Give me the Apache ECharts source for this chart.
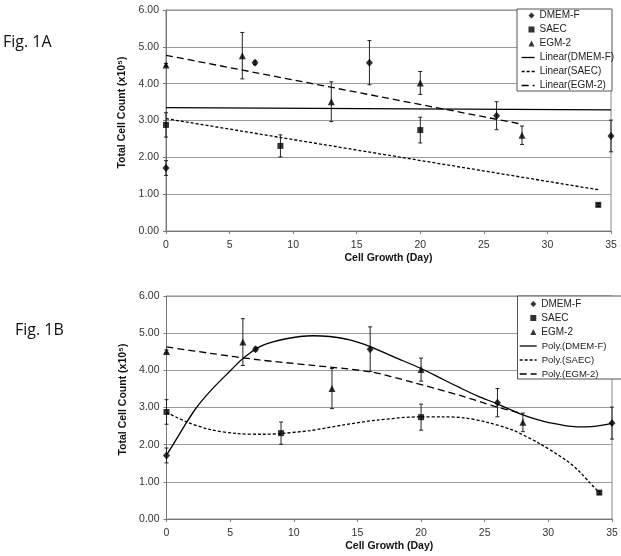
<!DOCTYPE html>
<html>
<head>
<meta charset="utf-8">
<script src="https://cdn.jsdelivr.net/npm/echarts@6/dist/echarts.min.js"></script>
<style>
  html, body { margin: 0; padding: 0; background: #fff; }
  #chart { width: 621px; height: 556px; }
</style>
</head>
<body>
<div id="chart"></div>
<script>
// ---- Data ----
const dmemDays = [0, 7, 16, 26, 35];
const dmemCount = [1.71, 4.57, 4.57, 3.13, 2.58];
const dmemErr = [0.20, 0.05, 0.60, 0.38, 0.43];

const saecDays = [0, 9, 20, 34];
const saecCount = [2.88, 2.31, 2.74, 0.71];
const saecErr = [0.33, 0.30, 0.35, 0.04];

const egmDays = [0, 6, 13, 20, 28];
const egmCount = [4.51, 4.76, 3.51, 4.02, 2.60];
const egmErr = [0.04, 0.63, 0.54, 0.31, 0.25];

// Fig. 1A linear trend lines (end points)
const linDmem = [[0, 3.35], [35, 3.29]];
const linSaec = [[0, 3.05], [34, 1.12]];
const linEgm = [[0, 4.77], [28, 2.90]];

// Fig. 1B polynomial trend lines
const polyDmem = [[0, 1.72], [0.52, 2.0], [1.4, 2.5], [2.36, 3.0], [3.6, 3.5], [5.05, 4.0], [6, 4.32],
  [7.3, 4.63], [8.3, 4.76], [9.4, 4.85], [10.5, 4.91], [11.5, 4.93], [12.8, 4.91], [14.4, 4.82],
  [16, 4.64], [17.8, 4.37], [20, 4.05], [21.7, 3.76], [23, 3.54], [24.5, 3.30], [25.9, 3.11],
  [28, 2.80], [29.2, 2.67], [30.4, 2.57], [31.3, 2.51], [32.2, 2.48], [33, 2.48], [33.8, 2.50], [35, 2.57]];
const polySaec = [[0, 2.87], [1.6, 2.61], [3.4, 2.41], [5.5, 2.30], [7.6, 2.28], [9, 2.30], [11.3, 2.38],
  [13.9, 2.53], [16.5, 2.66], [20, 2.75], [21.7, 2.75], [23.4, 2.72], [25.1, 2.61], [27.2, 2.39],
  [29.3, 2.03], [31.4, 1.58], [32.4, 1.29], [33.25, 0.98], [34, 0.71]];
const polyEgm = [[0, 4.63], [3.4, 4.46], [7.3, 4.28], [11.3, 4.14], [16, 3.96], [19.1, 3.70],
  [23, 3.33], [25.9, 3.02], [28, 2.83]];

const xMin = 0, xMax = 35, xStep = 5;
const yMin = 0, yMax = 6, yStep = 1;

const xTitle = 'Cell Growth (Day)';
const yTitle = 'Total Cell Count (x10\u2075)';

// ---- Helpers ----
const FONT = '"Liberation Sans", Arial, sans-serif';
const zip = (xs, ys) => xs.map((x, i) => [x, ys[i]]);
const zip3 = (xs, ys, es) => xs.map((x, i) => [x, ys[i], es[i]]);

function errRender(params, api) {
  const x = api.value(0), y = api.value(1), e = api.value(2);
  const top = api.coord([x, y + e]);
  const bot = api.coord([x, y - e]);
  const cw = 2;
  const st = { stroke: '#222', lineWidth: 1 };
  return {
    type: 'group',
    children: [
      { type: 'line', shape: { x1: top[0], y1: top[1], x2: bot[0], y2: bot[1] }, style: st },
      { type: 'line', shape: { x1: top[0] - cw, y1: top[1], x2: top[0] + cw, y2: top[1] }, style: st },
      { type: 'line', shape: { x1: bot[0] - cw, y1: bot[1], x2: bot[0] + cw, y2: bot[1] }, style: st }
    ]
  };
}

function axesFor(gi) {
  const x = {
    type: 'value', gridIndex: gi, min: xMin, max: xMax, interval: xStep,
    name: xTitle, nameLocation: 'middle', nameGap: 22,
    nameTextStyle: { fontFamily: FONT, fontSize: 10.5, fontWeight: 'bold', color: '#111' },
    axisLine: { show: true, onZero: false, lineStyle: { color: '#777', width: 1 } },
    axisTick: { show: true, length: 3, lineStyle: { color: '#777' } },
    axisLabel: { fontFamily: FONT, fontSize: 10.5, color: '#333', margin: 9 },
    splitLine: { show: false }
  };
  const y = {
    type: 'value', gridIndex: gi, min: yMin, max: yMax, interval: yStep,
    name: yTitle, nameLocation: 'middle', nameGap: 31,
    nameTextStyle: { fontFamily: FONT, fontSize: 10.5, fontWeight: 'bold', color: '#111', padding: [0, 0, 0, 16] },
    axisLine: { show: true, lineStyle: { color: '#777', width: 1 } },
    axisTick: { show: true, length: 3, lineStyle: { color: '#777' } },
    axisLabel: { fontFamily: FONT, fontSize: 10.5, color: '#333', margin: 7, formatter: v => v.toFixed(2) },
    splitLine: { show: true, lineStyle: { color: '#9a9a9a', width: 1 } }
  };
  return { x, y };
}

const a0 = axesFor(0), a1 = axesFor(1);

function markerSeries(gi) {
  return [
    { name: 'DMEM-F', type: 'scatter', xAxisIndex: gi, yAxisIndex: gi, symbol: 'diamond', symbolSize: [7, 8],
      itemStyle: { color: '#000' }, z: 4, data: zip(dmemDays, dmemCount) },
    { name: 'SAEC', type: 'scatter', xAxisIndex: gi, yAxisIndex: gi, symbol: 'rect', symbolSize: 6,
      itemStyle: { color: '#000' }, z: 4, data: zip(saecDays, saecCount) },
    { name: 'EGM-2', type: 'scatter', xAxisIndex: gi, yAxisIndex: gi, symbol: 'triangle', symbolSize: 7,
      itemStyle: { color: '#000' }, z: 4, data: zip(egmDays, egmCount) },
    { type: 'custom', xAxisIndex: gi, yAxisIndex: gi, renderItem: errRender, z: 3, silent: true,
      encode: { x: 0, y: 1 }, data: zip3(dmemDays, dmemCount, dmemErr) },
    { type: 'custom', xAxisIndex: gi, yAxisIndex: gi, renderItem: errRender, z: 3, silent: true,
      encode: { x: 0, y: 1 }, data: zip3(saecDays, saecCount, saecErr) },
    { type: 'custom', xAxisIndex: gi, yAxisIndex: gi, renderItem: errRender, z: 3, silent: true,
      encode: { x: 0, y: 1 }, data: zip3(egmDays, egmCount, egmErr) }
  ];
}

function trendSeries(gi, names, datas, smooth) {
  const dashes = ['solid', [3, 2], [7, 4]];
  return names.map((n, i) => ({
    name: n, type: 'line', xAxisIndex: gi, yAxisIndex: gi, symbol: 'none', smooth: smooth,
    lineStyle: { color: '#000', width: 1.3, type: dashes[i] }, itemStyle: { color: '#000' },
    z: 2, silent: true, data: datas[i]
  }));
}

const linNames = ['Linear(DMEM-F)', 'Linear(SAEC)', 'Linear(EGM-2)'];
const polyNames = ['Poly.(DMEM-F)', 'Poly.(SAEC)', 'Poly.(EGM-2)'];
const markerNames = ['DMEM-F', 'SAEC', 'EGM-2'];

function legendText(fs) {
  return { fontFamily: FONT, fontSize: fs, color: '#222', lineHeight: 12 };
}

function markerLegend(left, top, fs) {
  return { orient: 'vertical', left, top, padding: 0, itemGap: 2, itemWidth: 6, itemHeight: 6,
    selectedMode: false, textStyle: legendText(fs), data: markerNames, z: 6 };
}
function lineLegend(left, top, names, w, fs) {
  return { orient: 'vertical', left, top, padding: 0, itemGap: 2, itemWidth: w, itemHeight: 10,
    selectedMode: false, textStyle: legendText(fs), data: names, z: 6,
    itemStyle: { opacity: 0 }, lineStyle: { width: 1.3 } };
}

const chart = echarts.init(document.getElementById('chart'), null, { renderer: 'canvas' });
chart.setOption({
  animation: false,
  backgroundColor: '#fff',
  grid: [
    { left: 166, top: 10, width: 445, height: 221, show: true, borderColor: '#888', borderWidth: 1,
      backgroundColor: 'transparent', containLabel: false, outerBoundsMode: 'none' },
    { left: 166.5, top: 296, width: 445.5, height: 223, show: true, borderColor: '#888', borderWidth: 1,
      backgroundColor: 'transparent', containLabel: false, outerBoundsMode: 'none' }
  ],
  xAxis: [a0.x, a1.x],
  yAxis: [a0.y, a1.y],
  legend: [
    markerLegend(528.5, 9.5, 10),
    lineLegend(521, 51.5, linNames, 13, 10),
    markerLegend(530.3, 298, 10),
    lineLegend(519, 340, polyNames, 17, 9.5)
  ],
  graphic: [
    { type: 'rect', shape: { x: 517, y: 9, width: 95, height: 82 }, z: 5,
      style: { fill: '#fff', stroke: '#555', lineWidth: 1 } },
    { type: 'rect', shape: { x: 517.5, y: 296, width: 105, height: 83 }, z: 5,
      style: { fill: '#fff', stroke: '#555', lineWidth: 1 } },
    { type: 'text', left: 3, top: 34, z: 5,
      style: { text: 'Fig. 1A', fontFamily: '"Open Sans", sans-serif', fontSize: 16, fill: '#111' } },
    { type: 'text', left: 15, top: 322, z: 5,
      style: { text: 'Fig. 1B', fontFamily: '"Open Sans", sans-serif', fontSize: 16, fill: '#111' } }
  ],
  series: [
    ...trendSeries(0, linNames, [linDmem, linSaec, linEgm], false),
    ...markerSeries(0),
    ...trendSeries(1, polyNames, [polyDmem, polySaec, polyEgm], 0.3),
    ...markerSeries(1)
  ]
});
</script>
</body>
</html>
